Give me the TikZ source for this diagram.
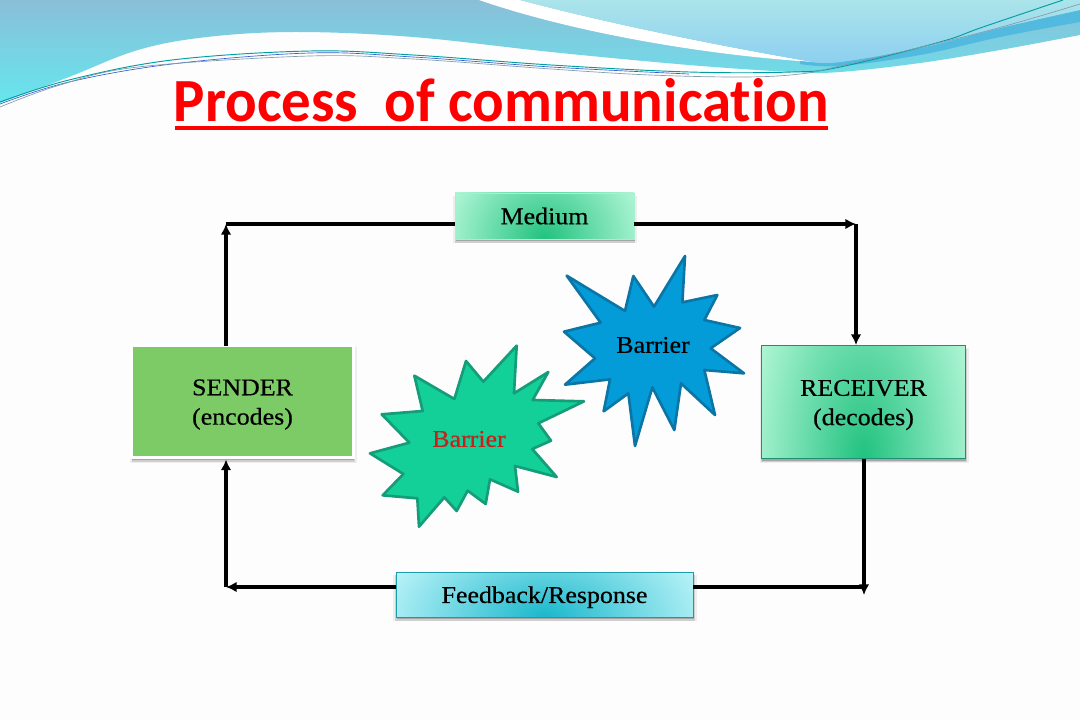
\documentclass[tikz,border=0pt]{standalone}
\usepackage{fontspec}
\usetikzlibrary{arrows.meta,shadows,calc}
\setmainfont{Liberation Serif}
\newfontfamily\gar[FakeBold=0.5,FakeStretch=1.08]{Liberation Serif}
\newfontfamily\titlefont[Ligatures=NoCommon]{Carlito Bold}
\definecolor{pagebg}{HTML}{FDFDFD}
\definecolor{waveA}{HTML}{8ABFD8}
\definecolor{waveB}{HTML}{66E6EE}
\definecolor{waveC}{HTML}{ABE4EA}
\definecolor{waveD}{HTML}{8CCFF0}
\definecolor{waveE}{HTML}{52B9DF}
\definecolor{senderfill}{HTML}{7DCB66}
\definecolor{greenedge}{HTML}{1F8F72}
\definecolor{mediumedge}{HTML}{A6EFD2}
\definecolor{cyanedge}{HTML}{1C9CA8}
\definecolor{greenstar}{HTML}{12D098}
\definecolor{greenstaredge}{HTML}{159C78}
\definecolor{bluestar}{HTML}{049CD8}
\definecolor{bluestaredge}{HTML}{0B75A6}
\definecolor{barrierred}{HTML}{C8201A}
\pgfdeclarefunctionalshading{greenglow}{\pgfpointorigin}{\pgfpoint{100bp}{100bp}}{}{
  25 sub 50 div exch 50 sub 25 div
  dup mul 0.8 mul exch dup mul 0.22 mul add sqrt
  dup 1 gt {pop 1} if
  dup 0.55 mul 0.13 add exch dup 0.2 mul 0.76 add exch 0.33 mul 0.50 add
}
\pgfdeclarefunctionalshading{cyanglow}{\pgfpointorigin}{\pgfpoint{100bp}{100bp}}{}{
  25 sub 50 div exch 50 sub 25 div
  dup mul 0.8 mul exch dup mul 0.22 mul add sqrt
  dup 1 gt {pop 1} if
  dup 0.62 mul 0.10 add exch dup 0.23 mul 0.72 add exch 0.17 mul 0.80 add
}
\tikzset{
  x=0.75pt,y=-0.75pt,
  boxlabel/.style={font=\gar\fontsize{18}{22}\selectfont,align=center,text=black},
  softshadow/.style={
    general shadow={fill=black,opacity=0.06,shadow xshift=0.4pt,shadow yshift=-2.6pt,shadow scale=1.025},
    general shadow={fill=black,opacity=0.13,shadow xshift=0.5pt,shadow yshift=-2.6pt,shadow scale=1.008},
    general shadow={fill=black,opacity=0.2,shadow xshift=0.4pt,shadow yshift=-1.6pt}},
  glowbox/.style={rectangle,inner sep=0pt,softshadow,boxlabel},
  conn/.style={draw=black,line width=2.4pt,-{Latex[length=8pt,width=8pt]}},
  wire/.style={draw=black,line width=2.4pt},
  burst/.style={line width=2pt,line join=round},
}
\newcommand{\lowerstrut}{\rule{0pt}{16.5pt}}
\begin{document}
\begin{tikzpicture}
\useasboundingbox (0,0) rectangle (1080,720);
\fill[pagebg] (0,0) rectangle (1080,720);
% header wave
\shade[top color=waveA,bottom color=waveB]
  (0,0) -- (1080,0) -- plot[smooth,tension=0.6] coordinates {(1080,35) (1000,50) (920,63) (840,72) (792,72) (689,65) (551,52) (413,37) (296,32) (207,37) (138,50) (69,77) (0,103)} -- cycle;
\fill[white] (479,0) .. controls (560,28) and (680,52) .. (799,61) -- (813,62)
  .. controls (720,46) and (610,24) .. (520,0) -- cycle;
\fill[waveE] plot[smooth,tension=0.6] coordinates {(800,61) (840,62) (920,48) (1000,28) (1080,10)} -- plot[smooth,tension=0.6] coordinates {(1080,22) (1000,37) (920,55) (840,66) (800,64)} -- cycle;
\shade[top color=waveC,bottom color=waveD]
  (520,0) .. controls (610,24) and (720,46) .. (813,62) -- plot[smooth,tension=0.6] coordinates {(813,62) (840,62) (920,48) (1000,28) (1080,10)} -- (1080,0) -- cycle;
\draw[teal!75!cyan,line width=0.7pt] plot[smooth,tension=0.6] coordinates {(0,102) (69,80) (172,60) (310,51) (413,55) (551,65) (689,72) (792,72) (840,67) (940,42) (983,27) (1063,0)};
\draw[blue!55!teal,line width=0.5pt,opacity=0.8] plot[smooth,tension=0.6] coordinates {(0,104) (69,82) (172,64) (310,53) (413,57) (551,67) (689,74)};
\draw[gray!75!cyan,line width=0.5pt] plot[smooth,tension=0.6] coordinates {(0,107) (60,85) (138,67) (310,56) (413,59) (551,69) (650,75) (744,77) (800,74) (840,66) (983,32) (1080,4)};
% title
\node[font=\titlefont\fontsize{46}{50}\selectfont,text=red,inner sep=0pt,anchor=base,xscale=0.96,transform shape] (title) at (501.5,122) {Process\ \ of communication};
\fill[red] (175,126) rectangle (828,130.5);
% boxes
\node[glowbox,fill=senderfill,draw=white,line width=2.6pt,minimum width=221.5*0.75pt,minimum height=112.5*0.75pt] (sender) at (242.5,401.5) {\lowerstrut SENDER\\(encodes)};
\node[glowbox,shade,shading=greenglow,draw=greenedge,line width=0.7pt,minimum width=204*0.75pt,minimum height=113*0.75pt] (receiver) at (863.5,402) {\lowerstrut RECEIVER\\(decodes)};
\node[glowbox,shade,shading=greenglow,draw=mediumedge,line width=0.7pt,minimum width=179*0.75pt,minimum height=46*0.75pt] (medium) at (544.5,216) {Medium};
\node[glowbox,shade,shading=cyanglow,draw=cyanedge,line width=0.7pt,minimum width=297*0.75pt,minimum height=45*0.75pt] (feedback) at (544.5,594.5) {\lowerstrut Feedback/Response};
% bursts
\begin{scope}[shift={(360,250)},x=0.25pt,y=-0.25pt]
\draw[burst,fill=greenstar,draw=greenstaredge] (30,610)--(148,578)--(65,493)--(188,483)--(163,377)--(283,447)--(318,333)--(370,395)--(470,287)--(462,430)--(565,366)--(518,450)--(672,454)--(535,520)--(573,572)--(517,597)--(590,681)--(465,648)--(474,725)--(390,688)--(377,762)--(323,722)--(290,783)--(253,742)--(177,830)--(172,745)--(68,736)--(130,672)--cycle;
\draw[burst,fill=bluestar,draw=bluestaredge] (620,77)--(795,183)--(820,78)--(882,170)--(975,18)--(967,157)--(1072,135)--(1033,210)--(1140,234)--(1052,295)--(1152,370)--(1033,360)--(1065,495)--(963,400)--(943,540)--(877,412)--(825,588)--(805,430)--(731,484)--(750,388)--(615,404)--(705,325)--(612,245)--(722,218)--cycle;
\end{scope}
\node[boxlabel,text=barrierred,inner sep=0pt] (barrierA) at (469,439) {Barrier};
\node[boxlabel,inner sep=0pt] (barrierB) at (653,345) {Barrier};
% connector corners
\coordinate (tl) at (226,224);
\coordinate (tr) at (856,224);
\coordinate (bl) at (226,587);
\coordinate (br) at (864,595);
% connectors
\draw[conn] ($(tl |- sender.north)+(0,2)$) -- (tl);
\draw[wire] (medium.west |- tl) -- (tl);
\draw[conn] (medium.east |- tr) -- (tr);
\draw[conn] (tr) -- (tr |- receiver.north);
\draw[conn] (br |- receiver.south) -- (br);
\draw[wire] (feedback.east |- bl) -- (br |- bl);
\draw[conn] (feedback.west |- bl) -- (bl);
\draw[conn] (bl) -- (tl |- sender.south);
\end{tikzpicture}
\end{document}
